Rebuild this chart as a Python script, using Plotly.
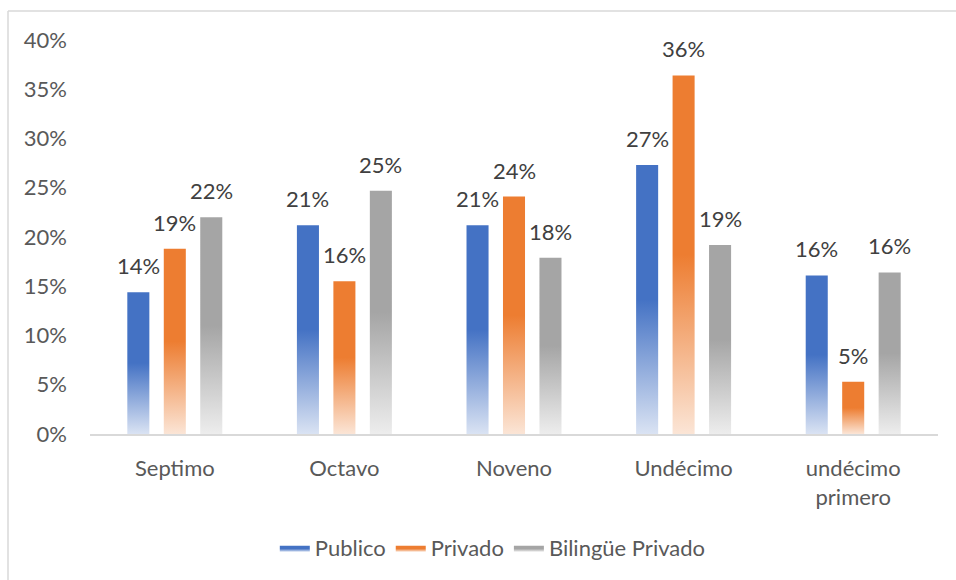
import plotly.graph_objects as go

categories = ["Septimo", "Octavo", "Noveno", "Undécimo", "undécimo<br>primero"]
series_names = ["Publico", "Privado", "Bilingüe Privado"]
publico = [0.144, 0.212, 0.212, 0.273, 0.161]
privado = [0.188, 0.155, 0.241, 0.364, 0.053]
bilingue = [0.220, 0.247, 0.179, 0.192, 0.164]
y_ticks = [0, 0.05, 0.10, 0.15, 0.20, 0.25, 0.30, 0.35, 0.40]

series_values = [publico, privado, bilingue]
full_colors = ["#4472C4", "#ED7D31", "#A5A5A5"]
light_colors = ["#DAE3F3", "#FBE5D6", "#EDEDED"]

FONT = "Lato"
offsets = [-0.215, 0.0, 0.215]
hw = 0.065

fig = go.Figure()
for j, (name, vals) in enumerate(zip(series_names, series_values)):
    for i, v in enumerate(vals):
        x0 = i + offsets[j] - hw
        x1 = i + offsets[j] + hw
        fig.add_trace(go.Scatter(
            x=[x0, x1, x1, x0, x0], y=[0, 0, v, v, 0],
            mode="lines", line=dict(width=0, color=full_colors[j]),
            fill="toself",
            fillgradient=dict(type="vertical",
                              colorscale=[[0, light_colors[j]], [0.5, full_colors[j]], [1, full_colors[j]]]),
            name=name, legendgroup=name, showlegend=(i == 0),
            hoverinfo="skip",
        ))
    for i, v in enumerate(vals):
        fig.add_annotation(
            x=i + offsets[j], y=v, text=f"{round(v*100)}%",
            showarrow=False, yanchor="bottom", yshift=11,
            font=dict(family=FONT, size=22, color="#404040"),
        )

# chart-area border (top and left lines)
fig.add_shape(type="line", xref="paper", yref="paper",
              x0=(8 - 90) / 848, x1=1.1, y0=(435 - 11) / 395, y1=(435 - 11) / 395,
              line=dict(color="#D9D9D9", width=1.5))
fig.add_shape(type="line", xref="paper", yref="paper",
              x0=(8 - 90) / 848, x1=(8 - 90) / 848, y0=(435 - 11) / 395, y1=-0.5,
              line=dict(color="#D9D9D9", width=1.5))

fig.update_layout(
    width=956, height=580,
    margin=dict(l=90, r=18, t=40, b=145),
    paper_bgcolor="white", plot_bgcolor="white",
    font=dict(family=FONT, size=22, color="#595959"),
    showlegend=True,
    legend=dict(orientation="h", x=0.475, xanchor="center", y=-0.286, yanchor="middle",
                font=dict(family=FONT, size=22, color="#595959"),
                itemwidth=30, traceorder="normal"),
    xaxis=dict(range=[-0.5, 4.5], tickvals=list(range(len(categories))), ticktext=categories,
               showgrid=False, zeroline=False, showline=True, linecolor="#D9D9D9", linewidth=1.5,
               ticks="", ticklabelstandoff=14, tickfont=dict(family=FONT, size=22, color="#595959")),
    yaxis=dict(range=[0, 0.40], tickvals=y_ticks, tickformat=".0%",
               showgrid=False, zeroline=False, showline=False, ticks="",
               ticklabelstandoff=22, tickfont=dict(family=FONT, size=22, color="#595959")),
)

fig.write_html("out.html", config={"displayModeBar": False},
               post_script="document.body.style.margin='0';document.body.style.overflow='hidden';")
